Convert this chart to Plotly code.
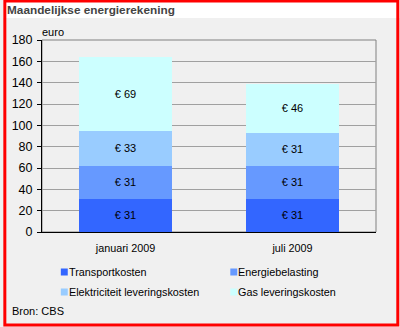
import plotly.graph_objects as go

# Monthly energy bill, stacked per cost component (euro)
periods = ["januari 2009", "juli 2009"]
series_names = ["Transportkosten", "Energiebelasting",
                "Elektriciteit leveringskosten", "Gas leveringskosten"]
transport = [31, 31]
energiebelasting = [31, 31]
elektriciteit = [33, 31]
gas = [69, 46]
y_ticks = [0, 20, 40, 60, 80, 100, 120, 140, 160, 180]

series_values = [transport, energiebelasting, elektriciteit, gas]
colors = ["#3366FF", "#6699FF", "#99CCFF", "#CCFFFF"]

W, H = 400, 327
ML, MR, MT, MB = 39, 24, 40, 95
PW, PH = W - ML - MR, H - MT - MB


def fx(px):
    return (px - ML) / PW


def fy(py):
    return (H - MB - py) / PH


FONT = "Liberation Sans, Arial, sans-serif"

fig = go.Figure()
for name, vals, col in zip(series_names, series_values, colors):
    fig.add_trace(go.Bar(
        x=periods, y=vals, name=name, marker=dict(color=col, line=dict(width=0)),
        text=[f"€ {v}" for v in vals], textposition="inside",
        insidetextanchor="middle", textangle=0,
        textfont=dict(size=11, color="#000000", family=FONT),
        showlegend=False,
    ))

shapes = [
    # white title band
    dict(type="rect", xref="paper", yref="paper", x0=fx(0), x1=fx(W), y0=fy(18), y1=fy(0),
         fillcolor="#FFFFFF", line=dict(width=0), layer="below"),
    # plot frame (top / right)
    dict(type="rect", xref="paper", yref="paper", x0=0, x1=1, y0=0, y1=1,
         line=dict(color="#808080", width=1), layer="below"),
    # red outer border
    dict(type="rect", xref="paper", yref="paper", x0=fx(1.5), x1=fx(W - 2), y0=fy(H - 2), y1=fy(1),
         line=dict(color="#FF0000", width=3), fillcolor="rgba(0,0,0,0)", layer="above"),
]

annotations = [
    dict(text="<b>Maandelijkse energierekening</b>", xref="paper", yref="paper",
         x=fx(2), y=fy(10), xanchor="left", yanchor="middle", showarrow=False,
         font=dict(size=11.8, color="#444444", family=FONT)),
    dict(text="euro", xref="paper", yref="paper", x=fx(37), y=fy(32),
         xanchor="left", yanchor="middle", showarrow=False,
         font=dict(size=11, color="#000000", family=FONT)),
    dict(text="Bron: CBS", xref="paper", yref="paper", x=fx(7), y=fy(311),
         xanchor="left", yanchor="middle", showarrow=False,
         font=dict(size=11, color="#000000", family=FONT)),
]

# legend: two columns, two rows
legend_pos = [(58, 272), (229, 272), (58, 292), (229, 292)]
for (lx, ly), name, col in zip(legend_pos, series_names, colors):
    shapes.append(dict(type="rect", xref="paper", yref="paper",
                       x0=fx(lx), x1=fx(lx + 7), y0=fy(ly + 3.5), y1=fy(ly - 3.5),
                       fillcolor=col, line=dict(width=0)))
    annotations.append(dict(text=name, xref="paper", yref="paper",
                            x=fx(lx + 6), y=fy(ly), xanchor="left", yanchor="middle",
                            showarrow=False,
                            font=dict(size=10.8, color="#000000", family=FONT)))

fig.update_layout(
    width=W, height=H,
    margin=dict(l=ML, r=MR, t=MT, b=MB, pad=0),
    paper_bgcolor="#F0F0F0", plot_bgcolor="#F0F0F0",
    barmode="stack", bargap=0.44,
    font=dict(family=FONT, size=11, color="#000000"),
    shapes=shapes, annotations=annotations,
    uniformtext=dict(minsize=11, mode="show"),
    xaxis=dict(showline=True, linecolor="#000000", linewidth=1, ticks="",
               showgrid=False, tickfont=dict(size=10.8, color="#000000"),
               ticklabelstandoff=6, fixedrange=True),
    yaxis=dict(range=[0, 180], tickvals=y_ticks, showline=True, linecolor="#000000",
               linewidth=1, ticks="outside", ticklen=4, tickcolor="#000000",
               showgrid=True, gridcolor="#A0A0A0", gridwidth=1, zeroline=False,
               tickfont=dict(size=12.5, color="#000000"), ticklabelstandoff=2,
               fixedrange=True),
)

fig.write_html("out.html")
